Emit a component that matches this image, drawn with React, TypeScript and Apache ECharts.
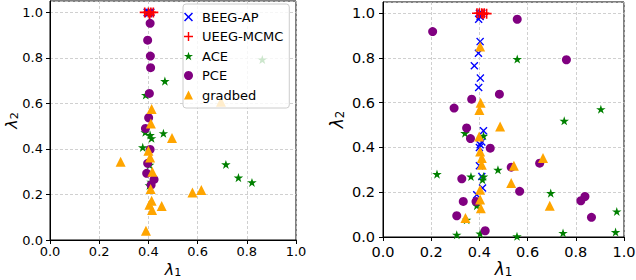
import React, { useEffect, useRef } from "react";
import * as echarts from "echarts";

// ---------- data (left panel) ----------
const beegLeft: number[][] = [[0.395, 1.0], [0.4, 1.0], [0.405, 1.0], [0.41, 1.0], [0.4, 0.995]];
const ueegLeft: number[][] = [[0.385, 1.0], [0.4, 1.0], [0.41, 1.0], [0.42, 1.0], [0.405, 0.99]];
const aceLeft: number[][] = [
  [0.863, 0.793], [0.467, 0.698], [0.389, 0.637], [0.461, 0.469], [0.387, 0.473], [0.407, 0.461],
  [0.413, 0.447], [0.377, 0.407], [0.715, 0.332], [0.766, 0.274], [0.821, 0.253], [0.411, 0.256],
  [0.404, 0.24], [0.405, 0.33],
];
const pceLeft: number[][] = [
  [0.407, 0.952], [0.397, 0.878], [0.408, 0.808], [0.409, 0.757], [0.404, 0.644], [0.401, 0.537],
  [0.388, 0.49], [0.407, 0.398], [0.397, 0.337], [0.393, 0.293], [0.423, 0.266], [0.411, 0.242],
];
const gradLeft: number[][] = [
  [0.695, 0.607], [0.413, 0.576], [0.41, 0.512], [0.496, 0.448], [0.4, 0.392], [0.407, 0.362],
  [0.287, 0.344], [0.416, 0.3], [0.409, 0.224], [0.579, 0.209], [0.615, 0.22], [0.413, 0.172],
  [0.404, 0.155], [0.454, 0.149], [0.415, 0.132], [0.39, 0.041],
];

// ---------- data (right panel) ----------
const beegRight: number[][] = [
  [0.4, 1.0], [0.41, 1.0], [0.397, 0.973], [0.403, 0.985], [0.403, 0.873], [0.396, 0.821],
  [0.379, 0.765], [0.404, 0.71], [0.397, 0.668], [0.417, 0.475], [0.403, 0.412], [0.41, 0.425],
  [0.4, 0.4], [0.4, 0.318], [0.41, 0.27], [0.413, 0.219], [0.389, 0.189],
];
const ueegRight: number[][] = [[0.39, 1.0], [0.4, 1.0], [0.41, 1.0], [0.42, 1.0], [0.43, 0.998], [0.415, 0.995]];
const aceRight: number[][] = [
  [0.557, 0.795], [0.904, 0.571], [0.752, 0.519], [0.34, 0.464], [0.417, 0.452], [0.224, 0.281],
  [0.365, 0.27], [0.477, 0.3], [0.413, 0.256], [0.417, 0.27], [0.696, 0.196], [0.389, 0.14],
  [0.97, 0.114], [0.347, 0.077], [0.306, 0.01], [0.403, 0.015], [0.556, 0.003], [0.747, 0.018],
  [0.965, 0.022],
];
const pceRight: number[][] = [
  [0.206, 0.918], [0.557, 0.973], [0.761, 0.792], [0.483, 0.638], [0.368, 0.616], [0.295, 0.576],
  [0.347, 0.487], [0.363, 0.44], [0.445, 0.397], [0.532, 0.312], [0.65, 0.33], [0.327, 0.26],
  [0.567, 0.204], [0.333, 0.159], [0.386, 0.159], [0.821, 0.162], [0.838, 0.181], [0.306, 0.095],
  [0.865, 0.088], [0.424, 0.028],
];
const gradRight: number[][] = [
  [0.403, 0.851], [0.405, 0.6], [0.4, 0.568], [0.486, 0.494], [0.399, 0.449], [0.403, 0.382],
  [0.41, 0.353], [0.41, 0.323], [0.664, 0.353], [0.543, 0.318], [0.532, 0.241], [0.403, 0.211],
  [0.403, 0.167], [0.406, 0.129], [0.692, 0.14], [0.342, 0.085],
];

const seriesNames = ["BEEG-AP", "UEEG-MCMC", "ACE", "PCE", "gradbed"];
const tickValues = [0, 0.2, 0.4, 0.6, 0.8, 1.0];

const FONT = "DejaVu Sans";
const X_SYMBOL = "path://M0,1.2L1.2,0L5,3.8L8.8,0L10,1.2L6.2,5L10,8.8L8.8,10L5,6.2L1.2,10L0,8.8L3.8,5Z";
const PLUS_SYMBOL = "path://M4.2,0H5.8V4.2H10V5.8H5.8V10H4.2V5.8H0V4.2H4.2Z";
const STAR_SYMBOL =
  "path://M50,0L61.23,34.55L97.55,34.55L68.17,55.9L79.39,90.45L50,69.1L20.61,90.45L31.83,55.9L2.45,34.55L38.77,34.55Z";

const styles: Record<string, { symbol: string; size: number; color: string }> = {
  "BEEG-AP": { symbol: X_SYMBOL, size: 8, color: "#0000ff" },
  "UEEG-MCMC": { symbol: PLUS_SYMBOL, size: 10, color: "#ff0000" },
  ACE: { symbol: STAR_SYMBOL, size: 9.5, color: "#008000" },
  PCE: { symbol: "circle", size: 9, color: "#800080" },
  gradbed: { symbol: "triangle", size: 10, color: "#ffa500" },
};

export default function App() {
  const ref = useRef<HTMLDivElement>(null);
  useEffect(() => {
    if (!ref.current) return;
    const chart = echarts.init(ref.current, null, { renderer: "svg" });

    const fmt = (v: number) => (tickValues.some((t) => Math.abs(t - v) < 1e-9) ? v.toFixed(1) : "");

    const nameRich = (lam: number) => ({
      l: { fontSize: lam, lineHeight: lam, fontStyle: "italic", fontFamily: FONT, color: "#000" },
      s: {
        fontSize: lam * 0.7,
        lineHeight: lam * 0.7,
        fontFamily: FONT,
        color: "#000",
        padding: [lam * 0.4, 0, 0, 0],
      },
    });

    const mkX = (idx: number, fs: number, margin: number, nameGap: number, lam: number) => ({
      type: "value",
      gridIndex: idx,
      min: 0,
      max: 1,
      interval: 0.2,
      name: "{l|λ}{s|1}",
      nameLocation: "middle",
      nameGap,
      nameMoveOverlap: false,
      nameTextStyle: { rich: nameRich(lam), lineHeight: lam },
      axisLine: { show: true, lineStyle: { color: "#000", width: 1 } },
      axisTick: { show: true, inside: false, length: 4, lineStyle: { color: "#000" } },
      axisLabel: { fontSize: fs, fontFamily: FONT, color: "#000", margin, formatter: fmt },
      splitLine: { show: true, lineStyle: { color: "#c4c4c4", type: [3, 2], width: 0.8 } },
    });
    const mkY = (idx: number, fs: number, margin: number, nameGap: number, lam: number) => ({
      type: "value",
      gridIndex: idx,
      min: 0,
      max: 1.05,
      interval: 0.2,
      name: "{l|λ}{s|2}",
      nameLocation: "middle",
      nameGap,
      nameMoveOverlap: false,
      nameTextStyle: { rich: nameRich(lam), lineHeight: lam },
      axisLine: { show: true, lineStyle: { color: "#000", width: 1 } },
      axisTick: { show: true, inside: false, length: 4, lineStyle: { color: "#000" } },
      axisLabel: { fontSize: fs, fontFamily: FONT, color: "#000", margin, formatter: fmt, showMaxLabel: false },
      splitLine: { show: true, lineStyle: { color: "#c4c4c4", type: [3, 2], width: 0.8 } },
    });

    const leftData: Record<string, number[][]> = {
      "BEEG-AP": beegLeft,
      "UEEG-MCMC": ueegLeft,
      ACE: aceLeft,
      PCE: pceLeft,
      gradbed: gradLeft,
    };
    const rightData: Record<string, number[][]> = {
      "BEEG-AP": beegRight,
      "UEEG-MCMC": ueegRight,
      ACE: aceRight,
      PCE: pceRight,
      gradbed: gradRight,
    };

    const mkSeries = (name: string, data: number[][], idx: number, z: number) => ({
      type: "scatter",
      name,
      xAxisIndex: idx,
      yAxisIndex: idx,
      data,
      symbol: styles[name].symbol,
      symbolSize: styles[name].size,
      symbolKeepAspect: true,
      itemStyle: { color: styles[name].color, opacity: 1 },
      z: 2 + z,
      emphasis: { disabled: true },
      clip: false,
    });

    const series: any[] = [];
    seriesNames.forEach((n, i) => {
      series.push(mkSeries(n, leftData[n], 0, i));
      series.push(mkSeries(n, rightData[n], 1, i));
    });

    chart.setOption({
      animation: false,
      backgroundColor: "#fff",
      textStyle: { fontFamily: FONT },
      grid: [
        {
          left: 50, top: 1, width: 246, height: 239, show: true, borderColor: "#000", borderWidth: 1,
          backgroundColor: "transparent", containLabel: false, outerBoundsMode: "none",
        },
        {
          left: 383, top: 2, width: 241, height: 235, show: true, borderColor: "#000", borderWidth: 1,
          backgroundColor: "transparent", containLabel: false, outerBoundsMode: "none",
        },
      ],
      xAxis: [mkX(0, 13, 5, 21, 16), mkX(1, 14.5, 7, 23, 17)],
      yAxis: [mkY(0, 13, 7, 31, 16), mkY(1, 14.5, 8, 38, 17)],
      legend: {
        show: true,
        data: seriesNames,
        orient: "vertical",
        left: 183,
        top: 4,
        padding: [6, 6, 6, 1],
        itemWidth: 9,
        itemHeight: 9,
        itemGap: 5.5,
        backgroundColor: "rgba(255,255,255,0.8)",
        borderColor: "#cccccc",
        borderWidth: 1,
        borderRadius: 3,
        selectedMode: false,
        textStyle: { fontSize: 13, fontFamily: FONT, color: "#000", lineHeight: 14, padding: [0, 0, 0, 4] },
        z: 20,
      },
      series,
    });
    return () => chart.dispose();
  }, []);
  return (
    <div
      ref={ref}
      style={{ position: "fixed", left: 0, top: 0, width: 636, height: 280, background: "#fff" }}
    />
  );
}
